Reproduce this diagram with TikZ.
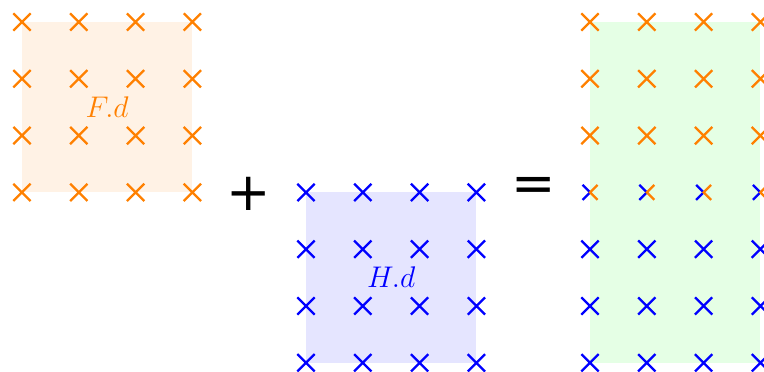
\documentclass[tikz,border=0pt]{standalone}
\usepackage{fontspec}
\usepackage{tikz}
\usetikzlibrary{shapes.misc}
\newfontfamily\opfont{DejaVu Sans}
\tikzset{
  ptcross/.style={cross out, draw, line width=2.3pt, minimum size=15pt, inner sep=0pt},
  fpt/.style={ptcross, draw=orange},
  hpt/.style={ptcross, draw=blue},
  fblock/.style={fill=orange!10},
  hblock/.style={fill=blue!10},
  sblock/.style={fill=green!10},
  halfline/.style={line width=2.3pt},
  oplabel/.style={inner sep=0pt, font=\opfont\fontsize{53}{56}\selectfont},
  blocklabel/.style={inner sep=0pt, font=\fontsize{24.88}{30}\selectfont}
}
\newcommand{\blocktext}[1]{\scalebox{1.2}{$#1$}}
\begin{document}
\begin{tikzpicture}[x=56.8pt, y=-56.8pt]
  \useasboundingbox (-0.387,-0.387) rectangle (13.063,6.162);
  % blocks
  \fill[fblock] (0,0) rectangle (3,3);
  \fill[hblock] (5,3) rectangle (8,6);
  \fill[sblock] (10,0) rectangle (13,3);
  \fill[sblock] (10,3) rectangle (13,6);
  % F points
  \foreach \i in {0,...,3}
    \foreach \j in {0,...,3}
      \node[fpt] (f-\i-\j) at (\i,\j) {};
  % H points
  \foreach \i in {5,...,8}
    \foreach \j in {3,...,6}
      \node[hpt] (h-\i-\j) at (\i,\j) {};
  % sum points
  \foreach \i in {10,...,13} {
    \foreach \j in {0,...,2}
      \node[fpt] (sf-\i-\j) at (\i,\j) {};
    \foreach \j in {4,...,6}
      \node[hpt] (sh-\i-\j) at (\i,\j) {};
    \coordinate (s-\i) at (\i,3);
    \draw[halfline, blue] (s-\i) ++(-7.5pt,-7.5pt) -- (s-\i) -- ++(-7.5pt,7.5pt);
    \draw[halfline, orange] (s-\i) ++(7.5pt,-7.5pt) -- (s-\i) -- ++(7.5pt,7.5pt);
  }
  % labels
  \node[blocklabel, text=orange] (flab) at (1.5,1.5) {\blocktext{F.d}};
  \node[blocklabel, text=blue] (hlab) at (6.5,4.5) {\blocktext{H.d}};
  \node[oplabel] (plus) at (4,3.02) {+};
  \node[oplabel] (eq) at (9,2.95) {=};
\end{tikzpicture}
\end{document}
